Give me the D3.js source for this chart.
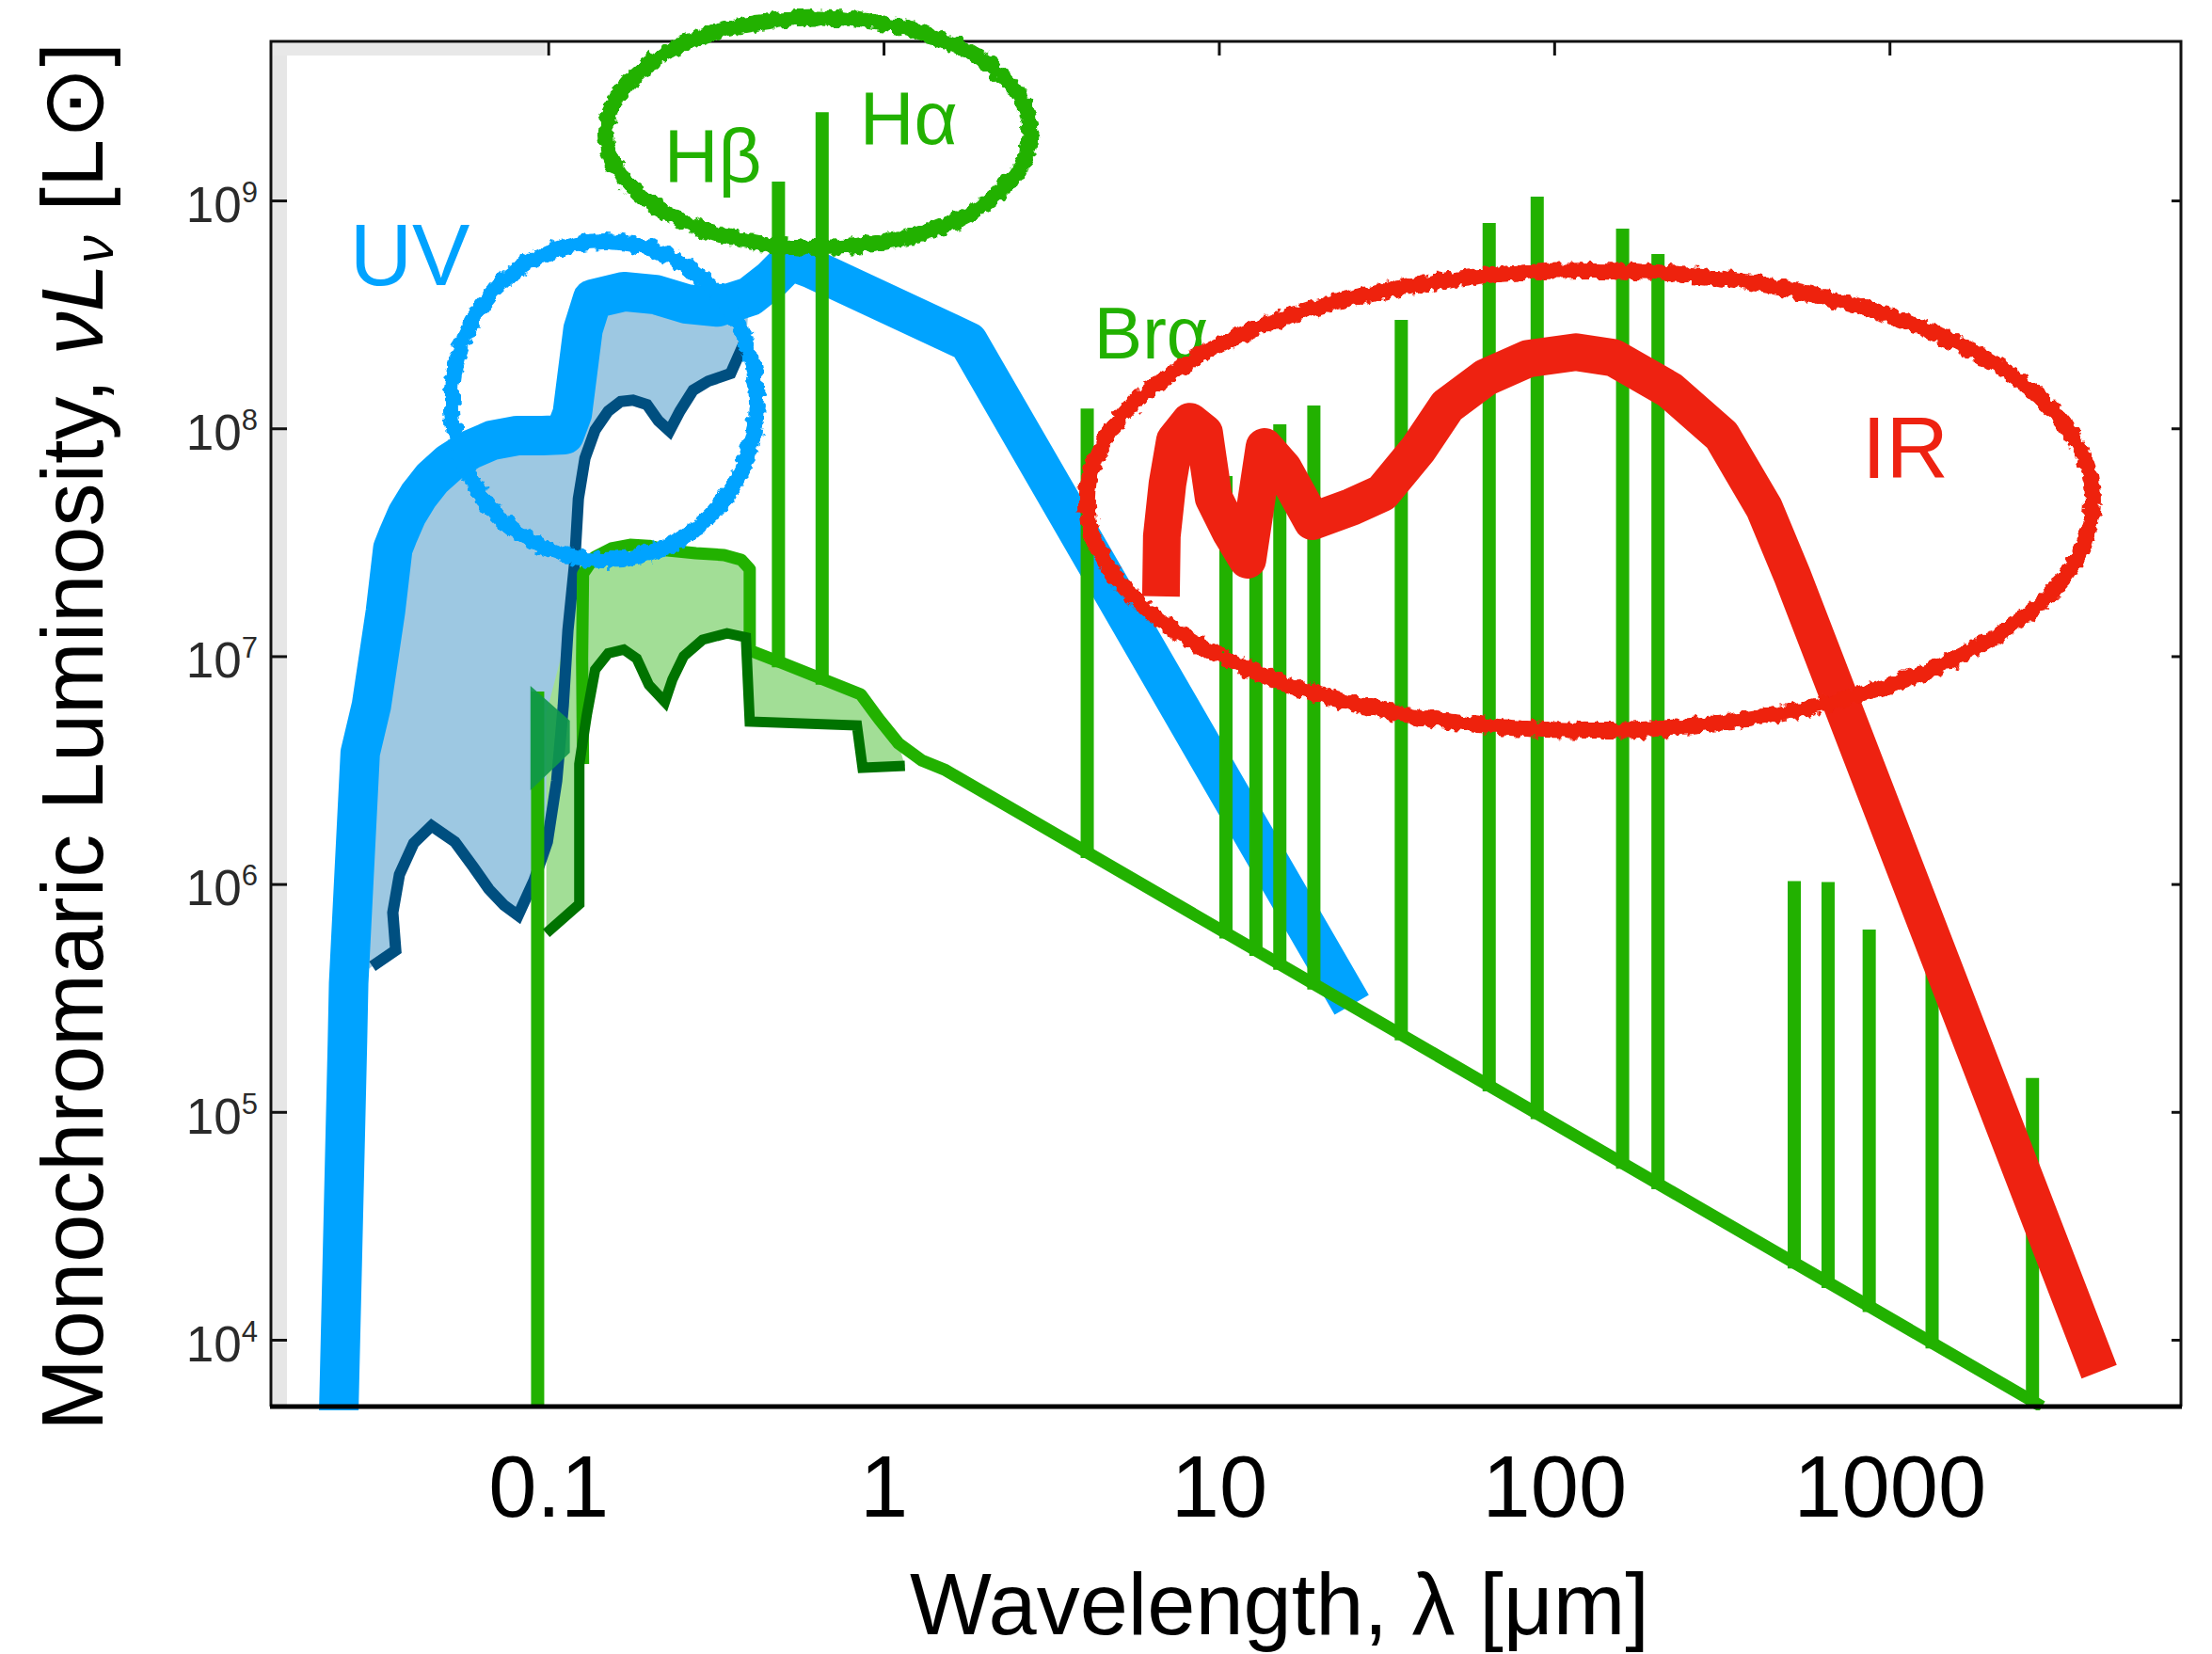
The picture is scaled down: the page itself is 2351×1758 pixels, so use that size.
<!DOCTYPE html>
<html>
<head>
<meta charset="utf-8">
<script src="https://cdn.jsdelivr.net/npm/d3@7"></script>
<style>
  html, body { margin: 0; padding: 0; background: #fff; }
  svg { display: block; }
  text { font-family: "Liberation Sans", Arial, Helvetica, sans-serif; }
</style>
</head>
<body>
<svg id="chart" width="2351" height="1758"></svg>
<script>
// Wavelength in µm, monochromatic luminosity νLν in L⊙

const xTickValues = [0.1, 1, 10, 100, 1000];
const xTickLabels = ["0.1", "1", "10", "100", "1000"];
const yTickValues = [1e4, 1e5, 1e6, 1e7, 1e8, 1e9];

// intrinsic stellar emission (UV)
const stellarIntrinsic = [
  [0.0237, 4.42e3], [0.0252, 2.07e5], [0.0254, 3.67e5], [0.0275, 3.77e6],
  [0.0297, 6.07e6], [0.0327, 1.57e7], [0.0344, 2.97e7], [0.03556, 3.36e7],
  [0.03793, 4.18e7], [0.0410, 5.05e7], [0.04516, 6.05e7], [0.05073, 7.05e7],
  [0.05848, 8.05e7], [0.0679, 8.86e7], [0.0808, 9.29e7], [0.0962, 9.29e7],
  [0.1117, 9.38e7], [0.118, 1.16e8], [0.127, 2.72e8], [0.1355, 3.69e8],
  [0.168, 3.98e8], [0.209, 3.86e8], [0.259, 3.51e8], [0.320, 3.41e8],
  [0.399, 3.79e8], [0.463, 4.50e8], [0.526, 5.44e8], [0.607, 5.04e8],
  [1.79, 2.40e8], [24.9, 2.95e5]
];

// stellar emission after attenuation
const stellarAttenuated = [
  [0.389, 2.47e8], [0.350, 1.74e8], [0.300, 1.61e8], [0.2705, 1.47e8],
  [0.247, 1.19e8], [0.230, 9.74e7], [0.213, 1.08e8], [0.197, 1.27e8],
  [0.179, 1.33e8], [0.1645, 1.31e8], [0.151, 1.19e8], [0.138, 9.83e7],
  [0.1287, 7.39e7], [0.123, 4.91e7], [0.1198, 2.52e7], [0.1145, 1.30e7],
  [0.1109, 6.06e6], [0.106, 2.84e6], [0.0994, 1.53e6], [0.0908, 1.04e6],
  [0.0813, 7.28e5], [0.0738, 8.08e5], [0.0665, 9.50e5], [0.0600, 1.18e6],
  [0.0527, 1.53e6], [0.0449, 1.80e6], [0.0397, 1.51e6], [0.0360, 1.10e6],
  [0.0344, 7.49e5], [0.0351, 5.12e5], [0.0299, 4.36e5]
];

// nebular continuum: Balmer bump, then power-law tail
const nebularBump = [
  [0.127, 3.36e6], [0.1262, 9.76e6], [0.127, 2.30e7], [0.1373, 2.72e7],
  [0.1542, 2.97e7], [0.1754, 3.08e7], [0.1996, 3.05e7], [0.2272, 2.91e7],
  [0.2758, 2.83e7], [0.3347, 2.78e7], [0.3762, 2.65e7], [0.399, 2.41e7]
];
const nebularContinuum = [
  [0.399, 1.06e7], [0.4934, 9.39e6], [0.8546, 6.80e6], [0.9725, 5.26e6],
  [1.107, 4.15e6], [1.301, 3.49e6], [1.519, 3.18e6], [2850, 5.09e3]
];
const nebularFillEdge = [[0.0987, 5.62e6]];

// nebular continuum after attenuation
const nebularAttenuated = [
  [0.0987, 6.08e5], [0.1238, 8.16e5], [0.1238, 3.36e6], [0.1303, 5.51e6],
  [0.138, 8.71e6], [0.151, 1.03e7], [0.168, 1.07e7], [0.1836, 9.76e6],
  [0.1996, 7.48e6], [0.2228, 6.30e6], [0.2347, 7.91e6], [0.2536, 1.00e7],
  [0.2886, 1.18e7], [0.3414, 1.26e7], [0.3886, 1.21e7], [0.399, 5.16e6],
  [0.8329, 4.97e6], [0.8658, 3.24e6], [1.158, 3.30e6]
];

// Lyman edge flag
const lymanEdgeLambda = 0.093;
const lymanEdgePeak = 7.0e6;
const lymanFlag = [[0.0885, 7.40e6], [0.116, 5.21e6], [0.116, 3.77e6], [0.0885, 2.58e6]];

// emission lines: wavelength and peak luminosity
const lineWavelengths = [0.486, 0.656, 4.05, 10.5, 12.9, 15.2, 19.2, 35, 64, 89, 160, 204, 520, 656, 870, 1340, 2670];
const linePeaks = [1.21e9, 2.44e9, 1.22e8, 6.17e7, 3.69e7, 1.04e8, 1.26e8, 2.99e8, 7.96e8, 1.04e9, 7.52e8, 5.82e8, 1.03e6, 1.02e6, 6.31e5, 4.15e5, 1.41e5];

// dust emission (IR)
const dustEmission = [
  [6.72, 1.83e7], [6.76, 3.36e7], [7.027, 5.72e7], [7.398, 8.86e7],
  [8.206, 1.07e8], [9.04, 9.55e7], [9.28, 7.32e7], [9.645, 4.96e7],
  [10.83, 3.52e7], [12.17, 2.65e7], [13.67, 8.28e7], [15.56, 6.66e7],
  [19.01, 3.91e7], [24.78, 4.51e7], [30.67, 5.20e7], [39.2, 8.05e7],
  [47.9, 1.25e8], [62.4, 1.67e8], [83.5, 2.02e8], [116.1, 2.16e8],
  [150.3, 2.04e8], [221.6, 1.47e8], [316, 9.29e7], [422.9, 4.47e7],
  [513.4, 2.25e7], [4221, 7.24e3]
];

// highlighted regions: centre [λ, L] and half-widths in decades
const ringNames = ["uv", "balmer", "ir"];
const ringCentres = [[0.147, 1.32e8], [0.639, 1.98e9], [127.9, 4.82e7]];
const ringHalfDex = [[0.455, 0.70], [0.632, 0.505], [1.50, 1.01]];

// annotation labels anchored in data space
const labelTexts = ["UV", "Hβ", "Hα", "Brα", "IR"];
const labelAnchors = [[0.02558, 4.25e8], [0.2214, 1.21e9], [0.849, 1.77e9], [4.245, 2.02e8], [828, 6.05e7]];

// ---------------------------------------------------------------
const C = {
  blue: "#00a3ff", blueFill: "#9dc8e2", blueDark: "#004f80",
  lime: "#22b100", limeFill: "#a2de96", greenDark: "#007300",
  flag: "#10984a", red: "#ee2211"
};
const labelColours = [C.blue, C.lime, C.lime, C.lime, C.red];
const labelSizes = [92, 80, 80, 77, 92];
const ringColours = [C.blue, C.lime, C.red];

const frame = { left: 288, top: 44, right: 2318, bottom: 1495 };
const svg = d3.select("#chart");

const x = d3.scaleLog().domain([0.0149, 7400]).range([frame.left, frame.right]);
const y = d3.scaleLog().domain([5.09e3, 4.99e9]).range([frame.bottom, frame.top]);

const defs = svg.append("defs");
defs.append("clipPath").attr("id", "plotClip")
  .append("rect")
  .attr("x", frame.left).attr("y", frame.top)
  .attr("width", frame.right - frame.left).attr("height", frame.bottom - frame.top + 4);

// marker-pen texture for the rings: wobbly edges
const rough = defs.append("filter").attr("id", "rough")
  .attr("x", "-10%").attr("y", "-10%").attr("width", "120%").attr("height", "120%");
rough.append("feTurbulence").attr("type", "fractalNoise").attr("baseFrequency", "0.12")
  .attr("numOctaves", 2).attr("seed", 7).attr("result", "noise");
rough.append("feDisplacementMap").attr("in", "SourceGraphic").attr("in2", "noise")
  .attr("scale", 11).attr("xChannelSelector", "R").attr("yChannelSelector", "G");

// panel background with the light grey inner rim
svg.append("rect").attr("x", frame.left).attr("y", frame.top)
  .attr("width", frame.right - frame.left).attr("height", frame.bottom - frame.top)
  .attr("fill", "#fff");
svg.append("rect").attr("x", frame.left + 2).attr("y", frame.top + 2)
  .attr("width", 15).attr("height", frame.bottom - frame.top - 4).attr("fill", "#e6e6e6");
svg.append("rect").attr("x", frame.left + 2).attr("y", frame.top + 2)
  .attr("width", x(0.0985) - frame.left - 2).attr("height", 13).attr("fill", "#e8e8e8");

const line = d3.line().x(d => x(d[0])).y(d => y(d[1])).curve(d3.curveLinear);
const area = d3.line().x(d => x(d[0])).y(d => y(d[1])).curve(d3.curveLinearClosed);

const plot = svg.append("g").attr("clip-path", "url(#plotClip)");

// absorbed stellar light (between intrinsic curve and attenuated curve)
const blueFillPoly = stellarIntrinsic.slice(2, 25).concat(stellarAttenuated);
plot.append("path").attr("d", area(blueFillPoly)).attr("fill", C.blueFill);

// absorbed nebular light
const greenFillPoly = nebularFillEdge
  .concat(nebularBump.slice(2))
  .concat(nebularContinuum.slice(0, 5))
  .concat(nebularAttenuated.slice().reverse());
plot.append("path").attr("d", area(greenFillPoly)).attr("fill", C.limeFill);

// intrinsic stellar SED
plot.append("path").attr("d", line(stellarIntrinsic))
  .attr("fill", "none").attr("stroke", C.blue).attr("stroke-width", 42)
  .attr("stroke-linejoin", "round").attr("stroke-linecap", "butt");

// attenuated stellar SED
plot.append("path").attr("d", line(stellarAttenuated))
  .attr("fill", "none").attr("stroke", C.blueDark).attr("stroke-width", 12)
  .attr("stroke-linejoin", "miter").attr("stroke-linecap", "butt");

// Lyman edge
plot.append("line")
  .attr("x1", x(lymanEdgeLambda)).attr("x2", x(lymanEdgeLambda))
  .attr("y1", y(y.domain()[0])).attr("y2", y(lymanEdgePeak))
  .attr("stroke", C.lime).attr("stroke-width", 14);
plot.append("path").attr("d", area(lymanFlag)).attr("fill", C.flag).attr("opacity", 0.9);

// nebular continuum outline
plot.append("path").attr("d", line(nebularBump.concat(nebularContinuum)))
  .attr("fill", "none").attr("stroke", C.lime).attr("stroke-width", 13)
  .attr("stroke-linejoin", "round");

// attenuated nebular continuum
plot.append("path").attr("d", line(nebularAttenuated))
  .attr("fill", "none").attr("stroke", C.greenDark).attr("stroke-width", 11)
  .attr("stroke-linejoin", "miter");

// emission lines stand on the nebular continuum
function continuumAt(lam) {
  const pts = nebularContinuum;
  for (let i = 0; i < pts.length - 1; i++) {
    const a = pts[i], b = pts[i + 1];
    if (lam >= a[0] && lam <= b[0]) {
      const t = (Math.log10(lam) - Math.log10(a[0])) / (Math.log10(b[0]) - Math.log10(a[0]));
      return Math.pow(10, Math.log10(a[1]) + t * (Math.log10(b[1]) - Math.log10(a[1])));
    }
  }
  return pts[pts.length - 1][1];
}
plot.append("g").selectAll("line")
  .data(lineWavelengths.map((lam, i) => ({ lam, peak: linePeaks[i], base: continuumAt(lam) })))
  .join("line")
  .attr("x1", d => x(d.lam)).attr("x2", d => x(d.lam))
  .attr("y1", d => y(d.base) + 6).attr("y2", d => y(d.peak))
  .attr("stroke", C.lime).attr("stroke-width", 14);

// dust emission
plot.append("path").attr("d", line(dustEmission))
  .attr("fill", "none").attr("stroke", C.red).attr("stroke-width", 40)
  .attr("stroke-linejoin", "round").attr("stroke-linecap", "butt");

// ---------------------------------------------------------------
// axes
const leftAxis = svg.append("g").attr("transform", `translate(${frame.left},0)`)
  .call(d3.axisLeft(y).tickValues(yTickValues).tickSizeInner(-17).tickSizeOuter(0).tickPadding(14));
leftAxis.select(".domain").remove();
leftAxis.selectAll(".tick line").attr("stroke", "#111").attr("stroke-width", 3);
leftAxis.selectAll(".tick text").each(function (d) {
  const t = d3.select(this);
  t.text(null).attr("dy", "0.42em").attr("fill", "#2a2a2a").style("font-size", "53px");
  t.append("tspan").text("10");
  t.append("tspan").attr("dy", -21).style("font-size", "31px").text(Math.round(Math.log10(d)));
});

const rightAxis = svg.append("g").attr("transform", `translate(${frame.right},0)`)
  .call(d3.axisRight(y).tickValues(yTickValues).tickSizeInner(-10).tickSizeOuter(0).tickFormat(""));
rightAxis.select(".domain").remove();
rightAxis.selectAll(".tick line").attr("stroke", "#111").attr("stroke-width", 3);

const topAxis = svg.append("g").attr("transform", `translate(0,${frame.top})`)
  .call(d3.axisTop(x).tickValues(xTickValues).tickSizeInner(-15).tickSizeOuter(0).tickFormat(""));
topAxis.select(".domain").remove();
topAxis.selectAll(".tick line").attr("stroke", "#111").attr("stroke-width", 3);

const bottomAxis = svg.append("g").attr("transform", `translate(0,${frame.bottom})`)
  .call(d3.axisBottom(x).tickValues(xTickValues).tickFormat((d, i) => xTickLabels[i])
    .tickSize(0).tickPadding(52));
bottomAxis.select(".domain").remove();
bottomAxis.selectAll(".tick text").attr("fill", "#000").style("font-size", "92px");

// frame
svg.append("path")
  .attr("d", `M${frame.left},${frame.bottom}V${frame.top}H${frame.right}V${frame.bottom}`)
  .attr("fill", "none").attr("stroke", "#111").attr("stroke-width", 3);
svg.append("line").attr("x1", frame.left - 1).attr("x2", frame.right + 1)
  .attr("y1", frame.bottom).attr("y2", frame.bottom)
  .attr("stroke", "#000").attr("stroke-width", 5);

// axis titles
svg.append("text").attr("x", (frame.left + frame.right) / 2 + 57).attr("y", 1737)
  .attr("text-anchor", "middle").style("font-size", "92px").attr("fill", "#000")
  .text("Wavelength, λ [μm]");

const yTitle = svg.append("text").attr("transform", "translate(109,783) rotate(-90)")
  .attr("text-anchor", "middle").style("font-size", "92px").attr("fill", "#000");
yTitle.append("tspan").text("Monochromaric Luminosity, ");
yTitle.append("tspan").style("font-style", "italic").text("νL");
yTitle.append("tspan").style("font-style", "italic").style("font-size", "60px").attr("dy", 11).text("ν");
yTitle.append("tspan").attr("dy", -11).text(" [L⊙]");

// annotation labels
svg.append("g").selectAll("text")
  .data(labelTexts.map((t, i) => ({ t, p: labelAnchors[i], c: labelColours[i], s: labelSizes[i] })))
  .join("text")
  .attr("x", d => x(d.p[0])).attr("y", d => y(d.p[1]))
  .attr("fill", d => d.c)
  .style("font-size", d => d.s + "px")
  .text(d => d.t);

// hand-drawn rings around the highlighted regions
svg.append("g").attr("filter", "url(#rough)").selectAll("ellipse")
  .data(ringNames.map((n, i) => ({ n, c: ringCentres[i], h: ringHalfDex[i], col: ringColours[i] })))
  .join("ellipse")
  .attr("cx", d => x(d.c[0])).attr("cy", d => y(d.c[1]))
  .attr("rx", d => x(d.c[0] * Math.pow(10, d.h[0])) - x(d.c[0]))
  .attr("ry", d => y(d.c[1]) - y(d.c[1] * Math.pow(10, d.h[1])))
  .attr("fill", "none").attr("stroke", d => d.col).attr("stroke-width", 17);
</script>
</body>
</html>
